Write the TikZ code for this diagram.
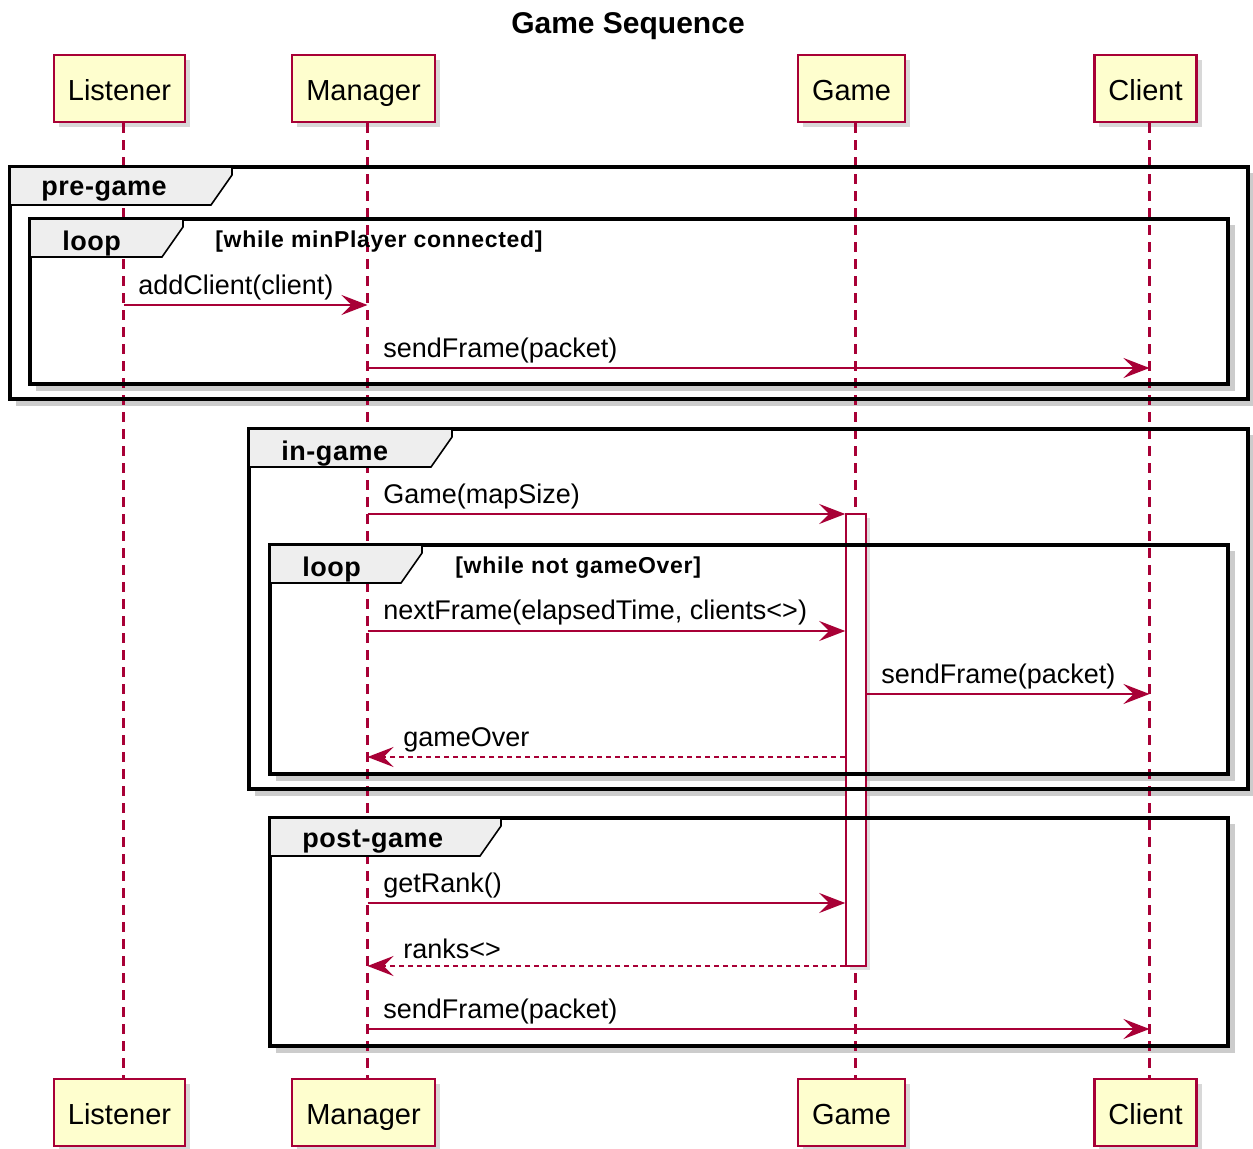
\documentclass[tikz,border=0pt]{standalone}
\usepackage{fontspec}
\setmainfont{Liberation Sans}
\usepackage{xcolor}
\usepackage{tikz}
\usetikzlibrary{arrows.meta}
\usetikzlibrary{shadows}
\usetikzlibrary{positioning}

\definecolor{umlred}{HTML}{A80036}
\definecolor{umlfill}{HTML}{FEFECE}
\definecolor{tabgray}{HTML}{EEEEEE}

\begin{document}
\begin{tikzpicture}[x=0.5pt, y=-0.5pt,
  actor/.style={rectangle, draw=umlred, fill=umlfill, line width=1.2pt, minimum height=33.5pt, inner xsep=7pt, text height=12.5pt, text depth=0.5pt, font=\fontsize{14.5}{17}\selectfont, drop shadow={shadow xshift=2.5pt, shadow yshift=-2.5pt, fill=black!30}},
  lifeline/.style={draw=umlred, line width=1.1pt, dash pattern=on 5pt off 3.5pt},
  msg/.style={draw=umlred, line width=0.8pt, -{Stealth[length=13pt, width=10pt, inset=5pt]}},
  reply/.style={msg, dash pattern=on 2.5pt off 2pt},
  lbl/.style={anchor=west, inner sep=0pt, font=\fontsize{13.5}{16}\selectfont},
  frame/.style={draw=black, line width=1.7pt},
  fshadow/.style={draw=black!20, line width=3pt},
  tab/.style={draw=black, fill=tabgray, line width=0.8pt},
  tablbl/.style={anchor=west, inner sep=0pt, font=\fontsize{13.5}{16}\selectfont\bfseries\addfontfeatures{LetterSpace=2}},
  guard/.style={anchor=west, inner sep=0pt, font=\fontsize{11.5}{14}\selectfont\bfseries\addfontfeatures{LetterSpace=3}},
  act/.style={rectangle, draw=umlred, fill=white, line width=0.8pt, minimum width=10pt, minimum height=226pt, inner sep=0pt, drop shadow={shadow xshift=2pt, shadow yshift=-2pt, fill=black!25}}]
\useasboundingbox (0,0) rectangle (1253,1149);

\node [font=\fontsize{15}{18}\selectfont\bfseries] (title) at (628,26) {Game Sequence};

% participants
\node [actor] (LT) at (119.5,88.5) {Listener};
\node [actor] (MT) at (363.5,88.5) {Manager};
\node [actor] (GT) at (851.5,88.5) {Game};
\node [actor] (CT) at (1145.5,88.5) {Client};
\node [actor] (LB) at (119.5,1112.5) {Listener};
\node [actor] (MB) at (363.5,1112.5) {Manager};
\node [actor] (GB) at (851.5,1112.5) {Game};
\node [actor] (CB) at (1145.5,1112.5) {Client};

\coordinate (xL) at ([xshift=2pt]LT.south);
\coordinate (xM) at ([xshift=2pt]MT.south);
\coordinate (xG) at ([xshift=2pt]GT.south);
\coordinate (xC) at ([xshift=2pt]CT.south);

% frame shadows
\draw [fshadow] (16,403) -- (1252,403) -- (1252,173);
\draw [fshadow] (36,388) -- (1232,388) -- (1232,225);
\draw [fshadow] (255,793) -- (1252,793) -- (1252,435);
\draw [fshadow] (276,778) -- (1232,778) -- (1232,551);
\draw [fshadow] (276,1050) -- (1232,1050) -- (1232,824);

% lifelines
\draw [lifeline] (xL) -- (xL |- LB.north);
\draw [lifeline] (xM) -- (xM |- MB.north);
\draw [lifeline] (xG) -- (xG |- GB.north);
\draw [lifeline] (xC) -- (xC |- CB.north);

\node [act] (act) at (856,740) {};

% pre-game
\draw [frame] (10,167) rectangle (1248,399);
\draw [tab] (10,167) -- (232,167) -- (232,175) -- (211,205) -- (10,205) -- cycle;
\node [tablbl] (pre) at (41,191) {pre-game};
\draw [frame] (30,219) rectangle (1228,384);
\draw [tab] (30,219) -- (183,219) -- (183,227) -- (162,257) -- (30,257) -- cycle;
\node [tablbl] (loopA) at (62,244) {loop};
\node [guard] (guardA) at (215,242) {[while minPlayer connected]};

% in-game
\draw [frame] (249,429) rectangle (1248,789);
\draw [tab] (249,429) -- (452,429) -- (452,437) -- (431,467) -- (249,467) -- cycle;
\node [tablbl] (in) at (281,454) {in-game};
\draw [frame] (270,545) rectangle (1228,774);
\draw [tab] (270,545) -- (422,545) -- (422,553) -- (401,583) -- (270,583) -- cycle;
\node [tablbl] (loopB) at (302,570) {loop};
\node [guard] (guardB) at (455,568) {[while not gameOver]};

% post-game
\draw [frame] (270,818) rectangle (1228,1046);
\draw [tab] (270,818) -- (501,818) -- (501,826) -- (480,856) -- (270,856) -- cycle;
\node [tablbl] (post) at (302,842) {post-game};

% messages
\draw [msg] (xL |- 0,305) -- (xM |- 0,305);
\node [lbl] (m1) at (138,288) {addClient(client)};
\draw [msg] (xM |- 0,368) -- (xC |- 0,368);
\node [lbl] (m2) at (383,351) {sendFrame(packet)};
\draw [msg] (xM |- 0,514) -- (act.west |- 0,514);
\node [lbl] (m3) at (383,497) {Game(mapSize)};
\draw [msg] (xM |- 0,631) -- (act.west |- 0,631);
\node [lbl] (m4) at (383,613) {nextFrame(elapsedTime, clients<>)};
\draw [msg] (act.east |- 0,694) -- (xC |- 0,694);
\node [lbl] (m5) at (881,677) {sendFrame(packet)};
\draw [reply] (act.west |- 0,757) -- (xM |- 0,757);
\node [lbl] (m6) at (403,740) {gameOver};
\draw [msg] (xM |- 0,903) -- (act.west |- 0,903);
\node [lbl] (m7) at (383,886) {getRank()};
\draw [reply] (act.west |- 0,966) -- (xM |- 0,966);
\node [lbl] (m8) at (403,949) {ranks<>};
\draw [msg] (xM |- 0,1029) -- (xC |- 0,1029);
\node [lbl] (m9) at (383,1012) {sendFrame(packet)};
\end{tikzpicture}
\end{document}
